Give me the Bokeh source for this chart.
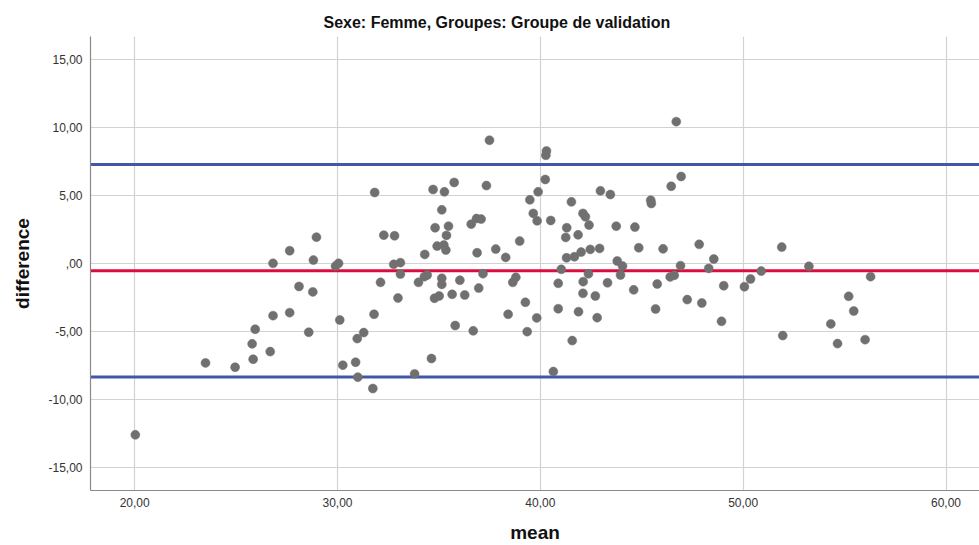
from bokeh.plotting import figure
from bokeh.models import Range1d, FixedTicker, CustomJSTickFormatter, Span, ColumnDataSource, Title
from bokeh.embed import file_html
from bokeh.resources import INLINE

# Bland-Altman data: mean of the two measures and their difference
mean_vals = [
    20.03, 23.49, 24.95, 25.79, 25.84, 25.94, 26.68, 26.82, 26.82, 27.64,
    27.64, 28.10, 28.58, 28.78, 28.81, 28.96, 29.90, 30.05, 30.11, 30.26,
    30.89, 30.97, 31.00, 31.29, 31.74, 31.80, 31.83, 32.12, 32.28, 32.77,
    32.81, 32.98, 33.10, 33.10, 33.80, 33.99, 34.28, 34.30, 34.42, 34.63,
    34.71, 34.78, 34.81, 34.91, 35.01, 35.14, 35.14, 35.14, 35.24, 35.27,
    35.34, 35.37, 35.47, 35.65, 35.75, 35.80, 36.03, 36.27, 36.59, 36.69,
    36.85, 36.88, 36.96, 37.08, 37.17, 37.34, 37.49, 37.80, 38.29, 38.41,
    38.64, 38.79, 38.98, 39.26, 39.35, 39.48, 39.65, 39.82, 39.84, 39.89,
    40.24, 40.27, 40.30, 40.51, 40.64, 40.88, 40.88, 41.03, 41.25, 41.29,
    41.30, 41.53, 41.57, 41.68, 41.86, 41.88, 42.01, 42.10, 42.10, 42.11,
    42.22, 42.37, 42.40, 42.46, 42.71, 42.80, 42.92, 42.96, 43.31, 43.45,
    43.74, 43.79, 43.95, 44.05, 44.60, 44.66, 44.85, 45.44, 45.47, 45.68,
    45.76, 46.05, 46.40, 46.45, 46.60, 46.70, 46.91, 46.94, 47.24, 47.83,
    47.96, 48.30, 48.55, 48.93, 49.04, 50.06, 50.36, 50.89, 51.90, 51.95,
    53.24, 54.32, 54.65, 55.20, 55.45, 56.01, 56.28,
]
diff_vals = [
    -12.63, -7.33, -7.65, -5.93, -7.06, -4.85, -6.50, 0.00, -3.85, 0.93,
    -3.63, -1.70, -5.07, -2.10, 0.24, 1.93, -0.20, 0.00, -4.17, -7.50,
    -7.28, -5.54, -8.38, -5.10, -9.22, -3.75, 5.22, -1.40, 2.08, -0.07,
    2.03, -2.55, 0.05, -0.79, -8.14, -1.40, -0.98, 0.66, -0.86, -7.01,
    5.44, -2.57, 2.62, 1.27, -2.40, 3.94, -1.10, -1.55, 1.35, 5.27,
    0.98, 2.06, 2.74, -2.28, 5.96, -4.58, -1.24, -2.33, 2.89, -4.97,
    3.30, 0.78, -1.82, 3.26, -0.76, 5.73, 9.07, 1.05, 0.44, -3.75,
    -1.40, -1.03, 1.64, -2.87, -5.03, 4.68, 3.68, -4.02, 3.13, 5.27,
    6.18, 7.96, 8.28, 3.16, -7.97, -1.47, -3.34, -0.44, 1.91, 0.41,
    2.62, 4.53, -5.69, 0.49, 2.10, -3.56, 0.83, 3.68, -2.21, -1.35,
    3.43, -0.77, 2.82, 1.03, -2.40, -4.00, 1.10, 5.34, -1.43, 5.07,
    2.74, 0.17, -0.86, -0.20, -1.95, 2.67, 1.15, 4.65, 4.41, -3.36,
    -1.52, 1.07, -1.00, 5.68, -0.88, 10.44, -0.17, 6.40, -2.67, 1.40,
    -2.92, -0.37, 0.32, -4.27, -1.65, -1.72, -1.15, -0.57, 1.20, -5.32,
    -0.22, -4.46, -5.91, -2.43, -3.51, -5.62, -0.98,
]

# Mean difference and limits of agreement
bias = -0.54
upper_limit = 7.29
lower_limit = -8.37

x_ticks = [20, 30, 40, 50, 60]
y_ticks = [-15, -10, -5, 0, 5, 10, 15]

FONT = "Liberation Sans"
TEXT = "#333333"

p = figure(
    width=979, height=545,
    x_range=Range1d(17.82, 61.65),
    y_range=Range1d(-16.73, 16.71),
    output_backend="svg", toolbar_location=None,
    min_border_left=90, min_border_right=0,
    min_border_top=36, min_border_bottom=54,
)
p.outline_line_color = None
p.background_fill_color = "white"
p.border_fill_color = "white"

p.title = Title(text="Sexe: Femme, Groupes: Groupe de validation", align="left",
                offset=233, text_font=FONT, text_font_size="16px",
                text_font_style="bold", text_color="#111111", standoff=12)

fmt = CustomJSTickFormatter(code="""
    if (tick == 0) { return ",00"; }
    return tick.toFixed(2).replace(".", ",");
""")

for ax, ticks in ((p.xaxis[0], x_ticks), (p.yaxis[0], y_ticks)):
    ax.ticker = FixedTicker(ticks=ticks)
    ax.formatter = fmt
    ax.major_tick_line_color = None
    ax.minor_tick_line_color = None
    ax.axis_line_color = "#8a8a8a"
    ax.axis_line_width = 1.2
    ax.major_label_text_font = FONT
    ax.major_label_text_font_size = "12px"
    ax.major_label_text_color = TEXT
    ax.axis_label_text_font = FONT
    ax.axis_label_text_font_size = "19px"
    ax.axis_label_text_font_style = "bold"
    ax.axis_label_text_color = "#111111"

p.xaxis.axis_label = "mean"
p.yaxis.axis_label = "difference"
p.xaxis.major_label_standoff = 1
p.xaxis.axis_label_standoff = 12
p.yaxis.major_label_standoff = 2
p.yaxis.axis_label_standoff = 12

for g in (p.xgrid[0], p.ygrid[0]):
    g.grid_line_color = "#d2d2d2"
    g.grid_line_width = 1.2
p.xgrid.ticker = FixedTicker(ticks=x_ticks)
p.ygrid.ticker = FixedTicker(ticks=y_ticks)

# Reference lines: limits of agreement (blue) and mean difference (red)
for loc, col in ((upper_limit, "#4158a8"), (lower_limit, "#4158a8"), (bias, "#dc0d3e")):
    p.add_layout(Span(location=loc, dimension="width", line_color=col,
                      line_width=3, level="underlay"))

src = ColumnDataSource(data=dict(mean=mean_vals, diff=diff_vals))
p.scatter("mean", "diff", source=src, size=9, fill_color="#707070",
          line_color="#707070", line_width=0.5)

html = file_html(p, INLINE)
open("out.html", "w").write(html)
